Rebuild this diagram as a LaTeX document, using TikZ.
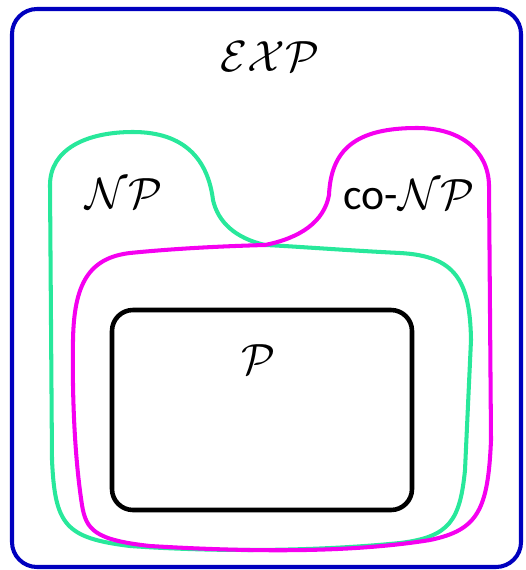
\documentclass[tikz,border=0pt]{standalone}
\usepackage{amsmath}
\usepackage{amssymb}
\usepackage{fontspec}
\usepackage{tikz}
\usepackage{xcolor}
\newfontfamily\cofont{Carlito}
\definecolor{expblue}{RGB}{0,0,190}
\definecolor{npgreen}{RGB}{40,232,155}
\definecolor{conpmagenta}{RGB}{245,0,240}

\begin{document}
\begin{tikzpicture}[x=0.02cm, y=-0.02cm, line width=2.3pt, line cap=round, line join=round,
    classlabel/.style={inner sep=0pt, font=\Huge}]
        \useasboundingbox (0,0) rectangle (526,570);
        \draw[expblue, rounded corners=0.5cm] (12,9) rectangle (521,567);
        % NP region
        \draw[npgreen] (265,245) .. controls (235,238) and (218,222) .. (213,200)
            .. controls (208,160) and (185,132) .. (133,132)
            .. controls (85,132) and (50,150) .. (50,185)
            -- (52,460)
            .. controls (55,525) and (65,538) .. (130,546)
            .. controls (230,553) and (330,550) .. (400,543)
            .. controls (450,537) and (460,520) .. (465,470)
            -- (471,340)
            .. controls (470,280) and (455,256) .. (400,253)
            .. controls (340,250) and (290,246) .. (265,245);
        % co-NP region
        \draw[conpmagenta] (265,245) .. controls (300,238) and (324,222) .. (329,195)
            .. controls (331,150) and (355,128) .. (417,128)
            .. controls (460,128) and (488,150) .. (489,185)
            -- (491,440)
            .. controls (488,510) and (478,530) .. (430,540)
            .. controls (350,553) and (250,552) .. (150,546)
            .. controls (95,540) and (86,530) .. (82,505)
            .. controls (75,460) and (72,400) .. (73,340)
            .. controls (74,285) and (88,258) .. (130,253)
            .. controls (180,248) and (230,246) .. (265,245);
        \draw[black, line width=2.6pt, rounded corners=0.42cm] (112,310) rectangle (412,510);
        \node[classlabel] (exp) at (270,57) {$\mathcal{EXP}$};
        \node[classlabel] (np) at (124,194) {$\mathcal{NP}$};
        \node[classlabel] (conp) at (409,195) {{\cofont co-}$\mathcal{NP}$};
        \node[classlabel] (p) at (258,360) {$\mathcal{P}$};
    \end{tikzpicture}
\end{document}
